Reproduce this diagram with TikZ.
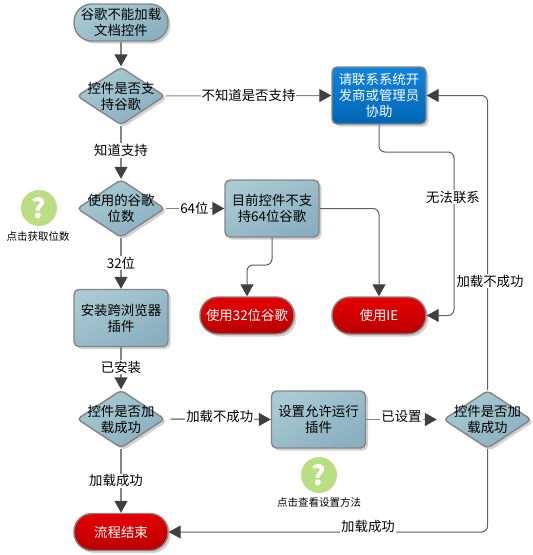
\documentclass[tikz,border=0pt]{standalone}
\usepackage{fontspec}
\setmainfont{Noto Sans CJK SC}
\usetikzlibrary{arrows.meta,shapes.geometric,shadows,calc}
\definecolor{edgeg}{HTML}{858585}
\definecolor{linea}{HTML}{858585}
\definecolor{lineb}{HTML}{606060}
\definecolor{tipc}{HTML}{404040}
\definecolor{tlight}{HTML}{A9CAD3}
\definecolor{tdark}{HTML}{8AAFC0}
\definecolor{rlight}{HTML}{E60000}
\definecolor{rdark}{HTML}{B80000}
\definecolor{blight}{HTML}{1284DC}
\definecolor{bdark}{HTML}{0066B4}
\definecolor{hgreen}{HTML}{B9DE83}
\tikzset{
  x=1pt,y=-1pt,
  every node/.style={font=\fontsize{13.4}{16}\selectfont,align=center,inner sep=0pt,text=black},
  softshadow/.style={drop shadow={shadow xshift=2.5pt,shadow yshift=-2.5pt,opacity=0.18,fill=black}},
  tealfill/.style={draw=edgeg,line width=1.4pt,softshadow,top color=tlight,bottom color=tdark,shading angle=30},
  redfill/.style={draw=edgeg,line width=1.4pt,softshadow,top color=rlight,bottom color=rdark,text=white},
  bluefill/.style={draw=edgeg,line width=1.4pt,softshadow,top color=blight,bottom color=bdark,text=white},
  term/.style={rectangle,rounded corners=18pt,minimum width=94pt,minimum height=37pt},
  proc/.style={rectangle,rounded corners=5pt,minimum width=94pt,minimum height=57pt},
  dia/.style={diamond,rounded corners=4pt,aspect=1.53,minimum width=88pt,minimum height=58pt,tealfill},
  conn/.style={draw=linea,line width=1.5pt,-{Triangle[length=12pt,width=13pt,color=tipc]}},
  connthin/.style={draw=lineb,line width=1pt,rounded corners=6pt,-{Triangle[length=12pt,width=13pt,color=tipc]}},
  lab/.style={fill=white,inner xsep=1pt,inner ysep=1pt},
  helpicon/.style={circle,fill=hgreen,minimum size=36pt,text=white,font=\fontsize{27}{27}\selectfont\bfseries},
  helptext/.style={font=\fontsize{10.5}{12}\selectfont},
}
\begin{document}
\begin{tikzpicture}
\useasboundingbox (0,0) rectangle (533,555);
\node[term,tealfill] (start) at (121,22.5) {谷歌不能加载\\文档控件};
\node[dia] (d1) at (121,96) {};
\node at (d1) (d1t) {控件是否支\\持谷歌};
\node[dia] (d2) at (121,208.5) {};
\node at (d2) (d2t) {使用的谷歌\\位数};
\node[proc,tealfill] (inst) at (121,318) {安装跨浏览器\\插件};
\node[dia] (d3) at (121,419) {};
\node at (d3) (d3t) {控件是否加\\载成功};
\node[term,redfill] (end) at (121,532) {流程结束};
\node[proc,tealfill] (no64) at (272,208.5) {目前控件不支\\持64位谷歌};
\node[proc,bluefill] (contact) at (379,95.5) {请联系系统开\\发商或管理员\\协助};
\node[term,redfill] (use32) at (247,315.5) {使用32位谷歌};
\node[term,redfill] (ie) at (379,315.5) {使用IE};
\node[proc,tealfill] (setup) at (318.5,419.5) {设置允许运行\\插件};
\node[dia] (d4) at (487.5,419.5) {};
\node at (d4) (d4t) {控件是否加\\载成功};
\node[helpicon] (h1) at (39,208) {?};
\node[helptext] (h1t) at (38,236) {点击获取位数};
\node[helpicon] (h2) at (319,475) {?};
\node[helptext] (h2t) at (319,502) {点击查看设置方法};

\coordinate (d3out) at ($(d3.east)+(5,0)$);
\coordinate (setupin) at (setup.west);
\coordinate (d4in) at ($(d4.west)+(-6,0)$);
\coordinate (b1) at (379,152);
\coordinate (b2) at (454,152);
\coordinate (b3) at (454,315.5);
\coordinate (b4) at (272,265);
\coordinate (b5) at (247,265);

\draw[conn] (start) -- (d1);
\draw[conn] (d1) -- node[lab,pos=.47] (l1) {知道支持} (d2);
\draw[conn,line width=1pt] (d1.east) -- node[lab,pos=.5] (l2) {不知道是否支持} (contact.west);
\draw[conn] (d2.east) -- node[lab,pos=.49] (l3) {64位} (no64.west);
\draw[conn] (d2) -- node[lab,pos=.49] (l4) {32位} (inst);
\draw[conn] (inst) -- node[lab,pos=.47] (l5) {已安装} (d3);
\draw[conn] (d3out) -- node[lab,pos=.49,yshift=3pt] (l6) {加载不成功} (setupin);
\draw[conn] (setup.east) -- node[lab,pos=.5,yshift=3pt] (l7) {已设置} (d4in);
\draw[conn] (d3) -- node[lab,pos=.5,xshift=-5pt] (l8) {加载成功} (end);
\draw[connthin] (d4.south) |- (end.east);
\node[lab,inner ysep=0pt] (l9) at (368,526.5) {加载成功};
\draw[connthin] (d4.north) |- (contact.east);
\node[lab] (l10) at (490,281) {加载不成功};
\draw[connthin] (contact.south) -- (b1) -- (b2) -- (b3) -- (ie.east);
\node[lab] (l11) at (453,197) {无法联系};
\draw[connthin] (no64.east) -| (ie.north);
\draw[connthin] (no64.south) -- (b4) -- (b5) -- (use32.north);
\end{tikzpicture}
\end{document}
